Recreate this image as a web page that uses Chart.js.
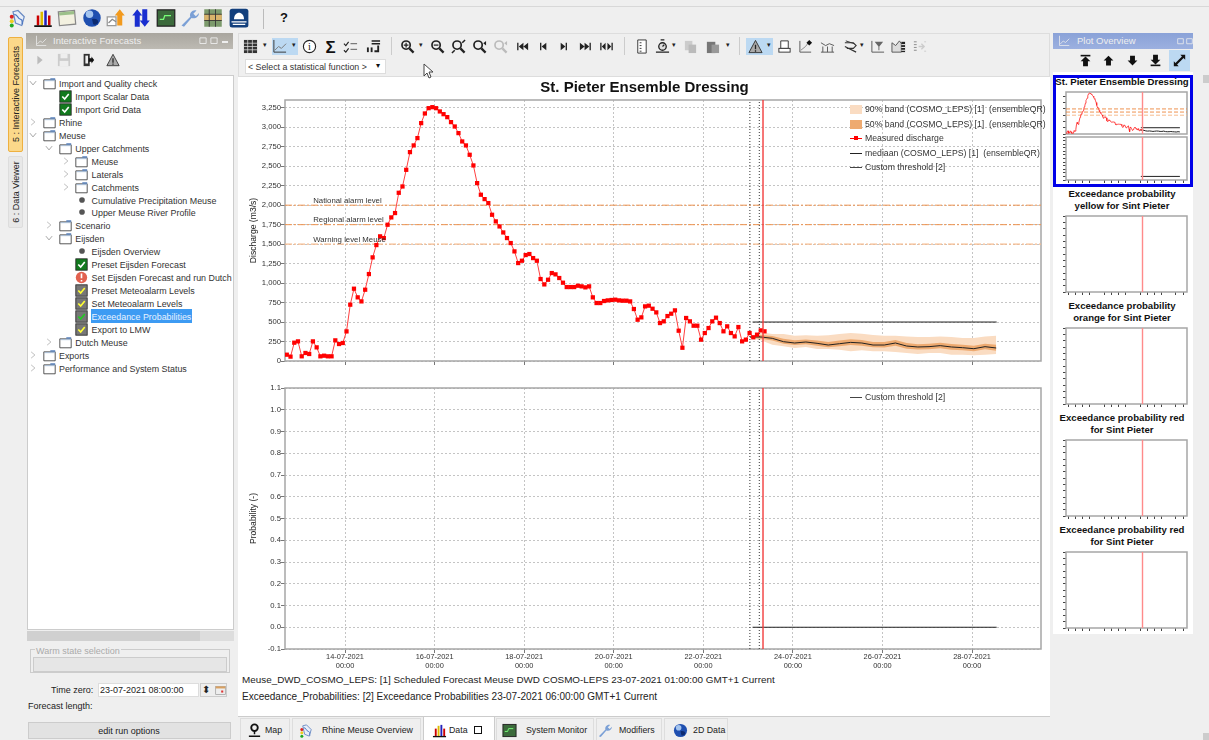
<!DOCTYPE html>
<html>
<head>
<meta charset="utf-8">
<title>St. Pieter Ensemble Dressing</title>
<script src="https://cdn.jsdelivr.net/npm/chart.js@4"></script>
<style>
html, body { margin: 0; padding: 0; }
body { width: 1209px; height: 740px; overflow: hidden; background: #efefef; position: relative; font-family: 'Liberation Sans', Arial, sans-serif; color: #222; }
div, canvas, svg { position: absolute; box-sizing: border-box; }
.t { white-space: pre; font-size: 9px; line-height: 12px; }
</style>
</head>
<body>
<script>
// --- data, days are days of July 2021 ---
const measuredStart = 12.70;
const measuredStep = 1 / 12;
const measuredQ = [81,56,235,252,60,103,90,252,175,60,68,60,60,265,218,231,380,723,928,817,765,915,1116,1330,1488,1600,1578,1749,1843,1899,2159,2240,2454,2681,2767,2861,3053,3177,3245,3258,3245,3203,3168,3130,3066,3010,2925,2818,2767,2647,2510,2283,2134,2078,2027,1877,1792,1727,1650,1578,1514,1407,1257,1287,1360,1373,1321,1287,1052,983,1043,1129,1112,1065,1005,949,949,949,966,958,945,958,817,744,744,770,778,783,787,778,774,774,765,667,530,560,701,710,671,624,487,509,577,607,650,389,170,552,509,453,453,274,359,423,509,556,487,381,445,359,316,436,252,274,359,304,338,393,381];

const forecastStart = 23.04;
const forecastStep = 0.25;
const medianQ = [308,308,291,248,231,244,227,205,222,239,231,205,205,231,192,180,184,197,180,171,158,184,167];
const upper90 = [316,368,346,346,325,329,325,329,346,359,351,334,325,325,316,308,308,316,308,295,295,316,325];
const lower90 = [295,265,210,188,167,180,154,154,145,124,137,124,124,115,103,90,103,103,81,81,73,81,90];
const upper50 = [312,335,320,285,265,275,262,245,262,278,270,245,245,268,230,215,222,235,218,210,197,222,210];
const lower50 = [302,285,262,222,205,215,197,175,190,205,197,175,172,197,158,148,150,165,145,137,124,150,130];

const thresholdNames = ['National alarm level', 'Regional alarm level', 'Warning level Meuse'];
const thresholdValues = [2000, 1750, 1500];
const customThreshold = 500;
const customProb = 0;
const customFrom = 23.1;
const customTo = 28.55;

const timeZero = 23.333;
const forecastT0 = 23.04;
const exceedT0 = 23.25;

const xMin = 12.66;
const xMax = 29.54;
const dateTicks = [14, 16, 18, 20, 22, 24, 26, 28];
const dateLabels = ['14-07-2021', '16-07-2021', '18-07-2021', '20-07-2021', '22-07-2021', '24-07-2021', '26-07-2021', '28-07-2021'];
const thumbTicks = [13, 14, 15, 16, 18, 19, 20, 21, 23, 24, 25, 26, 28, 29];
const qTicks = [0, 250, 500, 750, 1000, 1250, 1500, 1750, 2000, 2250, 2500, 2750, 3000, 3250];
const probTicks = [-0.1, 0, 0.1, 0.2, 0.3, 0.4, 0.5, 0.6, 0.7, 0.8, 0.9, 1.0, 1.1];

const band90Color = '#fadcc2';
const band50Color = '#eeaa70';
const thresholdColors = ['#ee9350', '#ee9350', '#f6bb8e'];
const FONT = "'Liberation Sans', Arial, sans-serif";

const measuredPts = measuredQ.map((v, i) => ({ x: measuredStart + i * measuredStep, y: v }));
const forecastPts = arr => arr.map((v, i) => ({ x: forecastStart + i * forecastStep, y: v }));

// --- ui helpers ---
function box(x, y, w, h, css) {
  const d = document.createElement('div');
  d.style.cssText = `left:${x}px;top:${y}px;width:${w}px;height:${h}px;` + (css || '');
  document.body.appendChild(d);
  return d;
}
function txt(x, y, s, css) {
  const d = document.createElement('div');
  d.className = 't';
  d.textContent = s;
  d.style.cssText = `left:${x}px;top:${y - 6}px;` + (css || '');
  document.body.appendChild(d);
  return d;
}
function ctxt(cx, y, s, css) {
  return txt(cx - 100, y, s, 'width:200px;text-align:center;' + (css || ''));
}
function icon(cx, cy, name, size) {
  const s = size || 16;
  const d = document.createElement('div');
  d.style.cssText = `left:${cx - s / 2}px;top:${cy - s / 2}px;width:${s}px;height:${s}px;`;
  d.innerHTML = `<svg width="${s}" height="${s}" viewBox="0 0 16 16" style="left:0;top:0">${icons[name]}</svg>`;
  document.body.appendChild(d);
}

const glass = (extra, c) => `<circle cx="6.5" cy="6.5" r="4.4" fill="none" stroke="${c || '#222'}" stroke-width="1.8"/><path d="M10 10l4.5 4.5" stroke="${c || '#222'}" stroke-width="2.4"/>${extra || ''}`;
const icons = {
  table: '<rect x="1" y="1" width="14" height="14" fill="#333"/><path d="M1 4.5h14M1 8h14M1 11.5h14M5 1v14M10 1v14" stroke="#ddd" stroke-width=".8"/>',
  line: '<path d="M2 1v13h13" fill="none" stroke="#333"/><path d="M3 12l4-4 3 2 5-5" fill="none" stroke="#777"/>',
  lineWhite: '<path d="M2 1v13h13" fill="none" stroke="#eee"/><path d="M3 12l4-4 3 2 5-5" fill="none" stroke="#eee"/>',
  info: '<circle cx="8" cy="8" r="6.5" fill="#fff" stroke="#222" stroke-width="1.2"/><text x="8" y="12" font-size="11" font-family="Liberation Serif" text-anchor="middle" fill="#222">i</text>',
  sigma: '<text x="8" y="14.5" font-size="18" font-weight="bold" font-family="Liberation Sans" text-anchor="middle" fill="#111">Σ</text>',
  check: '<path d="M1 5l2 2 3-4M1 12l2 2 3-4" fill="none" stroke="#222" stroke-width="1.2"/><path d="M8 5h7M8 11h7" stroke="#555"/>',
  rows: '<path d="M6 2h9M6 5h9" stroke="#222" stroke-width="1.6"/><rect x="1" y="9" width="2" height="5" fill="#222"/><rect x="5" y="9" width="2" height="5" fill="#222"/><path d="M13 7v6H9" fill="none" stroke="#222" stroke-width="2"/>',
  zin: glass('<path d="M4 6.5h5M6.5 4v5" stroke="#222" stroke-width="1.3"/>'),
  zout: glass('<path d="M4 6.5h5" stroke="#222" stroke-width="1.3"/>'),
  zfit: glass('<path d="M1 15l3-3M15 1l-3 3" stroke="#222" stroke-width="1.6"/>'),
  zprev: glass('<path d="M15 2l-3 2.5 3 2.5z" fill="#222"/>'),
  zoff: glass('<path d="M15 2l-3 2.5 3 2.5z" fill="#bbb"/>', '#bbb'),
  first: '<path d="M3 4v8" stroke="#222" stroke-width="1.4"/><path d="M9 4l-5 4 5 4zM14 4l-5 4 5 4z" fill="#222"/>',
  prev: '<path d="M5 4v8" stroke="#222" stroke-width="1.4"/><path d="M11 4l-5 4 5 4z" fill="#222"/>',
  next: '<path d="M11 4v8" stroke="#222" stroke-width="1.4"/><path d="M5 4l5 4-5 4z" fill="#222"/>',
  last: '<path d="M13 4v8" stroke="#222" stroke-width="1.4"/><path d="M2 4l5 4-5 4zM7 4l5 4-5 4z" fill="#222"/>',
  both: '<path d="M2 4v8M14 4v8" stroke="#222" stroke-width="1.4"/><path d="M7 4l-4 4 4 4zM9 4l4 4-4 4z" fill="#222"/>',
  doc: '<path d="M4 1h9v14H4z" fill="#fff" stroke="#333"/><path d="M6 4h2M6 7h2M6 10h2M6 13h2" stroke="#333"/>',
  stop: '<circle cx="8" cy="8" r="4" fill="#ddd" stroke="#222" stroke-width="1.4"/><path d="M1 14h14M8 8l2-2M6 1h4" stroke="#222" stroke-width="1.4"/>',
  copy: '<rect x="2" y="2" width="8" height="10" fill="#ccc"/><rect x="6" y="6" width="8" height="9" fill="#bbb"/>',
  paste: '<rect x="2" y="3" width="9" height="12" fill="#777"/><rect x="7" y="6" width="8" height="9" fill="#999"/>',
  warn: '<path d="M8 1.5l7 13H1z" fill="#aaa" stroke="#333"/><path d="M8 6v5M8 12v1.5" stroke="#222" stroke-width="1.4"/>',
  print: '<path d="M4 2h8v8H4z" fill="#fff" stroke="#333"/><rect x="2" y="10" width="12" height="4" fill="#fff" stroke="#333"/>',
  chartpt: '<path d="M2 2v12h12" fill="none" stroke="#555"/><path d="M3 12l5-4 3-4" fill="none" stroke="#888"/><path d="M12 1l3 3-3 3-3-3z" fill="#111"/>',
  bars: '<path d="M1 14h14M3 14V8M8 14V8M13 14V8M1 4l5 3 4-2 5 2" fill="none" stroke="#555"/>',
  cross: '<path d="M2 4h9l3 3-3 3H4M2 8l12 6" fill="none" stroke="#333" stroke-width="1.2"/><path d="M3 2l9 3" stroke="#333"/>',
  filter: '<path d="M2 2v12h13" fill="none" stroke="#555"/><path d="M5 3h9l-4 5v4H9V8z" fill="#666"/>',
  hatch: '<path d="M1 14V4l4 3 4-5 2 3v9z" fill="#ddd" stroke="#555"/><rect x="11" y="3" width="4" height="11" fill="#222"/><path d="M11 6h4M11 9h4M11 12h4" stroke="#fff"/>',
  dimmed: '<path d="M2 3h3M2 6h3M2 9h3M2 12h3" stroke="#888"/><path d="M7 8h5M10 5l3 3-3 3" stroke="#ccc" fill="none" stroke-width="1.4"/><path d="M13 3h2M13 13h2" stroke="#ccc"/>',
  chartbar: '<rect x="3" y="6" width="2" height="8" fill="#c00"/><rect x="6" y="3" width="2" height="11" fill="#db0"/><rect x="9" y="2" width="2" height="12" fill="#22b"/><rect x="12" y="6" width="2" height="8" fill="#c00"/><path d="M1 14.5h14" stroke="#111" stroke-width="1.4"/>',
  calendar: '<rect x="1.5" y="2.5" width="13" height="11" fill="#f3f1e0" stroke="#888" transform="rotate(-5 8 8)"/><rect x="2" y="3" width="12" height="2.5" fill="#9cc089" transform="rotate(-5 8 8)"/>',
  globe: '<circle cx="8" cy="8" r="7" fill="#1f4fb0"/><circle cx="6" cy="5" r="3" fill="#a4c4ee"/><path d="M8 9c2-1 5 0 5 2s-3 3-4 2z" fill="#0c2a70"/>',
  orange: '<path d="M1 7h7v7H1z" fill="#fff" stroke="#999"/><path d="M2 12l3-3 3 2" fill="none" stroke="#888"/><path d="M11 1l4 5h-2v8H9V6H7z" fill="#f29a1e"/>',
  blue: '<path d="M5 1l4 5H7v9H3V6H1zM11 15l-4-5h2V1h4v9h2z" fill="#1a2fd0"/>',
  monitor: '<rect x="1" y="1.5" width="14" height="13" fill="#3c6a3c" stroke="#222"/><path d="M3 9h3l1-3h5" stroke="#7f7" fill="none"/>',
  wrench: '<path d="M2 14l7-7c-1-3 2-6 5-5l-2.5 2.5 2 2L16 4c0 3-3 5-6 4l-6 7z" fill="#7ba0d6"/>',
  grid: '<rect x="1" y="1" width="14" height="14" fill="#7c9a6c"/><rect x="1" y="5" width="14" height="5" fill="#d9b36b"/><path d="M1 5h14M1 10h14M5 1v14M10 1v14" stroke="#333" stroke-width=".7"/>',
  ship: '<rect x="0.5" y="0.5" width="15" height="15" rx="2" fill="#123f7c"/><path d="M4 9c0-7 8-7 8 0z" fill="#fff"/><path d="M2 11h12M3 13h10" stroke="#fff"/>',
  logo: '<path d="M4 3l4-1 5 5-2 7-5-2z" fill="#e8eef8" stroke="#6c8cc4"/><path d="M5 5c3 0 2 3 5 4s0 3 2 4" fill="none" stroke="#4a74c0"/><circle cx="3" cy="7" r="1.6" fill="#d22"/><circle cx="3" cy="10.5" r="1.6" fill="#ec2"/><circle cx="3" cy="14" r="1.6" fill="#2a2"/>',
  save: '<path d="M1 1h14v14H1z" fill="#ccc"/><rect x="4" y="1" width="8" height="5" fill="#eee"/><rect x="3" y="9" width="10" height="6" fill="#eee"/>',
  door: '<path d="M3 1h7v14H3z" fill="#333"/><path d="M5 3h3v9H5z" fill="#eee"/><path d="M9 6h3V4l3 4-3 4v-2H9z" fill="#111"/>',
  playoff: '<path d="M5 3l6 5-6 5z" fill="#bbb"/>',
  top: '<path d="M2 2h12" stroke="#111" stroke-width="2"/><path d="M8 3l6 6h-3v6H5V9H2z" fill="#111"/>',
  up: '<path d="M8 2l6 6h-3v6H5V8H2z" fill="#111"/>',
  down: '<path d="M8 14l6-6h-3V2H5v6H2z" fill="#111"/>',
  bottom: '<path d="M2 14h12" stroke="#111" stroke-width="2"/><path d="M8 13l6-6h-3V1H5v6H2z" fill="#111"/>',
  expand: '<path d="M15 1v6l-2-2-8 8 2 2H1V9l2 2 8-8-2-2z" fill="#111"/>',
  folder: '<path d="M1 3.5h14v11H1z" fill="#fff" stroke="#333"/><path d="M9 1.5h6v2H9z" fill="#5f86bd"/><path d="M2 4.5h13" stroke="#9fb9d8"/>',
  chevR: '<path d="M5 3l6 5-6 5" fill="none" stroke="#aaa" stroke-width="1.2"/>',
  chevD: '<path d="M3 5l5 6 5-6" fill="none" stroke="#888" stroke-width="1.2"/>',
  dot: '<circle cx="8" cy="8" r="4.5" fill="#555"/>',
  okGreen: '<rect x="1" y="1" width="14" height="14" fill="#127a1e" stroke="#222"/><path d="M4 8l3 3 5-6" fill="none" stroke="#fff" stroke-width="2"/>',
  okYellow: '<rect x="1" y="1" width="14" height="14" fill="#777" stroke="#222"/><path d="M4 8l3 3 5-6" fill="none" stroke="#ff3" stroke-width="2"/>',
  okMixed: '<rect x="1" y="1" width="14" height="14" fill="#777" stroke="#222"/><path d="M4 8l3 3 5-6" fill="none" stroke="#2c2" stroke-width="2"/>',
  error: '<circle cx="8" cy="8" r="7" fill="#e2614f"/><path d="M8 3v6M8 11v2" stroke="#fff" stroke-width="2"/>',
  pin: '<circle cx="8" cy="5" r="3.5" fill="none" stroke="#111" stroke-width="2"/><path d="M8 9v3M2 14h12" stroke="#111" stroke-width="1.6"/>',
  cal: '<rect x="1" y="2" width="14" height="12" fill="#eee" stroke="#999"/><rect x="1" y="2" width="14" height="3" fill="#d9a060"/><rect x="9" y="8" width="3" height="3" fill="#d33"/>',
  tiny: '<path d="M3 12V3h10v9z" fill="none" stroke="#eee" stroke-width="1.4"/>'
};

// --- window frame ---
box(0, 6, 1209, 1, 'background:#d8d8d8');
[['logo', 18], ['chartbar', 43], ['calendar', 67], ['globe', 92], ['orange', 116], ['blue', 141], ['monitor', 166], ['wrench', 189], ['grid', 213], ['ship', 239]].forEach(a => icon(a[1], 18, a[0], 20));
box(263, 9, 1, 20, 'background:#bbb');
ctxt(284, 18, '?', 'font-size:13px;font-weight:bold;color:#111');

// left tabs
box(8, 37, 15, 115, 'background:#fbd88a;border:1px solid #eeb040;border-radius:2px');
box(8, 156, 15, 72, 'background:#e8e8e8;border:1px solid #ddd;border-radius:2px');
txt(-36, 94, '5 : Interactive Forecasts', 'width:104px;text-align:center;transform:rotate(-90deg)');
txt(-20, 192, '6 : Data Viewer', 'width:72px;text-align:center;transform:rotate(-90deg)');

// left panel
box(26, 33, 207, 16, 'background:linear-gradient(#a9a69f,#bdbab3)');
txt(53, 41, 'Interactive Forecasts', 'color:#eee;font-size:9.5px');
icon(41, 41, 'lineWhite', 12);
icon(203, 41, 'tiny', 10); icon(214, 41, 'tiny', 10);
box(222, 41, 6, 2, 'background:#eee');
[['playoff', 40], ['save', 64], ['door', 88], ['warn', 113]].forEach(a => icon(a[1], 60, a[0], 14));
box(27, 75, 207, 555, 'background:#fff;border:1px solid #ccc');

const treeRows = [
  ['Import and Quality check', 0, 'folder', 'chevD', 83],
  ['Import Scalar Data', 1, 'okGreen', '', 96],
  ['Import Grid Data', 1, 'okGreen', '', 109],
  ['Rhine', 0, 'folder', 'chevR', 122],
  ['Meuse', 0, 'folder', 'chevD', 135],
  ['Upper Catchments', 1, 'folder', 'chevD', 148],
  ['Meuse', 2, 'folder', 'chevR', 161],
  ['Laterals', 2, 'folder', 'chevR', 174],
  ['Catchments', 2, 'folder', 'chevR', 187],
  ['Cumulative Precipitation Meuse', 2, 'dot', '', 200],
  ['Upper Meuse River Profile', 2, 'dot', '', 212],
  ['Scenario', 1, 'folder', 'chevR', 225],
  ['Eijsden', 1, 'folder', 'chevD', 238],
  ['Eijsden Overview', 2, 'dot', '', 251],
  ['Preset Eijsden Forecast', 2, 'okGreen', '', 264],
  ['Set Eijsden Forecast and run Dutch', 2, 'error', '', 277],
  ['Preset Meteoalarm Levels', 2, 'okYellow', '', 290],
  ['Set Meteoalarm Levels', 2, 'okYellow', '', 303],
  ['Exceedance Probabilities', 2, 'okMixed', '', 316],
  ['Export to LMW', 2, 'okYellow', '', 329],
  ['Dutch Meuse', 1, 'folder', 'chevR', 342],
  ['Exports', 0, 'folder', 'chevR', 355],
  ['Performance and System Status', 0, 'folder', 'chevR', 368]
];
box(91, 309, 101, 14, 'background:#3d9bf3');
treeRows.forEach(r => {
  const indent = r[1] * 16.3;
  const small = r[2] === 'dot' ? 10 : 13;
  if (r[3]) icon(33 + indent, r[4], r[3], 10);
  icon(49 + indent, r[4], r[2], small);
  txt(59 + indent, r[4] + 1, r[0], r[0] === 'Exceedance Probabilities' ? 'color:#e8f2ff;font-size:8.9px' : 'color:#333;font-size:8.9px');
});

// left bottom
box(27, 631, 207, 10, 'background:#ddd');
box(27, 631, 173, 10, 'background:#d0d0d0');
box(30, 649, 200, 24, 'border:1px solid #ccc');
txt(35, 651, 'Warm state selection', 'color:#aaa;background:#efefef;padding:0 1px');
box(33, 657, 194, 15, 'background:#e6e6e6;border:1px solid #ccc');
txt(51, 690, 'Time zero:', 'color:#222');
box(98, 683, 101, 14, 'background:#fff;border:1px solid #ddd');
txt(100, 690, '23-07-2021 08:00:00', 'color:#222');
box(200, 683, 27, 14, 'background:#eee;border:1px solid #ccc');
icon(220, 690, 'cal', 11);
ctxt(206, 690, '⬍', 'font-size:10px;color:#222');
txt(28, 706, 'Forecast length:', 'color:#222');
box(28, 722, 203, 17, 'background:#e2e2e2;border:1px solid #ccc');
ctxt(129, 731, 'edit run options', 'color:#222');

// chart toolbar
box(238, 33, 812, 44, 'background:#efefef;border:1px solid #ddd');
box(272, 38, 26, 17, 'background:#bcd9f2');
box(746, 38, 27, 17, 'background:#bcd9f2');
[['table', 250], ['line', 279], ['info', 309], ['sigma', 330], ['check', 350], ['rows', 373], ['zin', 407], ['zout', 437], ['zfit', 458], ['zprev', 479], ['zoff', 500], ['first', 522], ['prev', 543], ['next', 563], ['last', 585], ['both', 606], ['doc', 641], ['stop', 662], ['copy', 690], ['paste', 712], ['warn', 755], ['print', 784], ['chartpt', 805], ['bars', 827], ['cross', 850], ['filter', 877], ['hatch', 898], ['dimmed', 919]].forEach(a => icon(a[1], 46, a[0], 15));
[265, 294, 421, 674, 728, 769, 862].forEach(x => ctxt(x, 45, '▾', 'font-size:7px;color:#222'));
[391, 624, 739].forEach(x => box(x, 37, 1, 18, 'background:#ccc'));
box(245, 59, 141, 15, 'background:#fff;border:1px solid #ddd');
txt(248, 66.5, '< Select a statistical function >', 'color:#333;font-size:8.8px');
ctxt(378, 66, '▾', 'font-size:8px;color:#111');

// white plot area
box(238, 77, 812, 640, 'background:#fff');

// plot overview
box(1053, 33, 140, 16, 'background:linear-gradient(#8aa2d8,#9cb0e0)');
txt(1077, 41, 'Plot Overview', 'color:#eee;font-size:9.5px');
icon(1064, 41, 'lineWhite', 12); icon(1180, 41, 'tiny', 9); icon(1189, 41, 'tiny', 9);
box(1169, 50, 21, 21, 'background:#bcd9f2');
[['top', 1085], ['up', 1108], ['down', 1132], ['bottom', 1155], ['expand', 1179]].forEach(a => icon(a[1], 60, a[0], 13));
box(1053, 72, 140, 562, 'background:#fff');
box(1053, 75, 140, 112, 'border:3px solid #0000e8');
ctxt(1122, 82, 'St. Pieter Ensemble Dressing', 'font-weight:bold;font-size:9.6px;color:#111');
[[194, 'Exceedance probability'], [206, 'yellow for Sint Pieter'], [306, 'Exceedance probability'], [318, 'orange for Sint Pieter'], [418, 'Exceedance probability red'], [430, 'for Sint Pieter'], [530, 'Exceedance probability red'], [542, 'for Sint Pieter']].forEach(a => ctxt(1122, a[0], a[1], 'font-weight:bold;font-size:9.6px;color:#111'));
box(1203, 75, 6, 8, 'background:#ccc');
box(1203, 733, 6, 7, 'background:#ccc');

// bottom tabs
box(238, 716, 812, 1, 'background:#ccc');
[[240, 50], [292, 129], [496, 98], [596, 66], [664, 64]].forEach(a => box(a[0], 718, a[1], 22, 'background:#efefef;border:1px solid #ddd;border-bottom:none'));
box(423, 716, 72, 24, 'background:#fff;border:1px solid #ccc;border-bottom:none');
[['pin', 254], ['logo', 306], ['chartbar', 439], ['monitor', 509], ['wrench', 604], ['globe', 680]].forEach(a => icon(a[1], 730, a[0], 15));
[[265, 'Map'], [322, 'Rhine Meuse Overview'], [449, 'Data'], [526, 'System Monitor'], [619, 'Modifiers'], [693, '2D Data']].forEach(a => txt(a[0], 730, a[1], 'color:#222;font-size:8.8px'));
box(474, 726, 8, 8, 'border:1px solid #111');

// footer lines
txt(242, 680, 'Meuse_DWD_COSMO_LEPS: [1] Scheduled Forecast Meuse DWD COSMO-LEPS 23-07-2021 01:00:00 GMT+1 Current', 'font-size:9.9px;color:#222');
txt(242, 696.5, 'Exceedance_Probabilities: [2] Exceedance Probabilities 23-07-2021 06:00:00 GMT+1 Current', 'font-size:10px;color:#222');

// --- charts ---
function addCanvas(x, y, w, h) {
  const c = document.createElement('canvas');
  c.width = w;
  c.height = h;
  c.style.cssText = `left:${x}px;top:${y}px;width:${w}px;height:${h}px;`;
  document.body.appendChild(c);
  return c;
}

const framePlugin = {
  id: 'frame',
  beforeDatasetsDraw(chart) {
    const a = chart.chartArea, c = chart.ctx;
    c.save();
    c.strokeStyle = '#a6a6a6';
    c.lineWidth = 1.5;
    c.strokeRect(a.left, a.top, a.width, a.height);
    c.restore();
  }
};

const thresholdLabelPlugin = {
  id: 'thresholdLabels',
  afterDatasetsDraw(chart) {
    const c = chart.ctx, xs = chart.scales.x, ys = chart.scales.y;
    c.save();
    c.font = '7.8px ' + FONT;
    c.fillStyle = '#333';
    c.textBaseline = 'bottom';
    thresholdNames.forEach((name, i) => {
      c.fillText(name, xs.getPixelForValue(13.29), ys.getPixelForValue(thresholdValues[i]) - 0.5);
    });
    c.restore();
  }
};

const vline = (x, yMin, yMax, color, width, dash) => ({
  data: [{ x: x, y: yMin }, { x: x, y: yMax }],
  borderColor: color, borderWidth: width, borderDash: dash || [], pointRadius: 0
});
const hline = (label, y, from, to, color, width, dash) => ({
  label: label, data: [{ x: from, y: y }, { x: to, y: y }],
  borderColor: color, borderWidth: width, borderDash: dash || [], pointRadius: 0
});

function commonScales(yMin, yMax, yTicks, yTitle, showDates, xFitH, yFitW) {
  return {
    x: {
      type: 'linear', min: xMin, max: xMax,
      afterBuildTicks: s => { s.ticks = dateTicks.map(v => ({ value: v })); },
      afterFit: s => { s.height = xFitH; },
      border: { display: false, dash: [2, 2] },
      grid: { color: '#c4c4c4', tickLength: 4, tickColor: '#777', tickBorderDash: [] },
      ticks: {
        display: showDates, autoSkip: false, maxRotation: 0, padding: 0,
        color: '#333', font: { family: FONT, size: 7.4, lineHeight: 1.15 },
        callback: (v, i) => [dateLabels[i], '00:00']
      }
    },
    y: {
      min: yMin, max: yMax,
      afterBuildTicks: s => { s.ticks = yTicks.map(v => ({ value: v })); },
      afterFit: s => { s.width = yFitW; },
      border: { display: false, dash: [2, 2] },
      grid: { color: '#c4c4c4', tickLength: 4, tickColor: '#777', tickBorderDash: [] },
      title: { display: true, text: yTitle, color: '#222', padding: 0, font: { family: FONT, size: 8.6 } },
      ticks: {
        autoSkip: false, padding: 0, color: '#333', font: { family: FONT, size: 7.7 },
        callback: v => yMax > 10 ? v.toLocaleString('en-US') : v.toFixed(1)
      }
    }
  };
}

const qMin = 0, qMax = 3350;
const pMin = -0.1, pMax = 1.1;

new Chart(addCanvas(240, 78, 806, 291), {
  type: 'line',
  data: {
    datasets: [
      vline(timeZero, qMin, qMax, '#f23c3c', 1.4),
      { label: 'Measured discharge', data: measuredPts, borderColor: '#ff4040', borderWidth: 1, pointStyle: 'rect', pointRadius: 3, pointBackgroundColor: '#f00', pointBorderWidth: 0 },
      { label: 'mediaan (COSMO_LEPS) [1]  (ensembleQR)', data: forecastPts(medianQ), borderColor: '#222', borderWidth: 1, pointRadius: 0 },
      hline('Custom threshold [2]', customThreshold, customFrom, customTo, '#222', 1),
      vline(forecastT0, qMin, qMax, '#333', 1, [1, 2]),
      vline(exceedT0, qMin, qMax, '#333', 1, [1, 2]),
      hline(thresholdNames[0], thresholdValues[0], xMin, xMax, thresholdColors[0], 1, [7, 2, 2, 2]),
      hline(thresholdNames[1], thresholdValues[1], xMin, xMax, thresholdColors[1], 1, [7, 2, 2, 2]),
      hline(thresholdNames[2], thresholdValues[2], xMin, xMax, thresholdColors[2], 1.2, [7, 2, 2, 2]),
      { label: '50% band (COSMO_LEPS) [1]  (ensembleQR)', data: forecastPts(upper50), borderWidth: 0, pointRadius: 0, backgroundColor: band50Color, fill: '+1' },
      { data: forecastPts(lower50), borderWidth: 0, pointRadius: 0 },
      { label: '90% band (COSMO_LEPS) [1]  (ensembleQR)', data: forecastPts(upper90), borderWidth: 0, pointRadius: 0, backgroundColor: band90Color, fill: '+1' },
      { data: forecastPts(lower90), borderWidth: 0, pointRadius: 0 }
    ]
  },
  plugins: [framePlugin, thresholdLabelPlugin],
  options: {
    responsive: false, animation: false, devicePixelRatio: 1,
    layout: { padding: { left: 8, right: 5, top: 0, bottom: 0 } },
    scales: commonScales(qMin, qMax, qTicks, 'Discharge (m3/s)', false, 8, 37),
    plugins: {
      legend: { display: false }, tooltip: { enabled: false },
      title: { display: true, text: 'St. Pieter Ensemble Dressing', color: '#111', padding: { top: 1, bottom: 3 }, font: { family: FONT, size: 15, weight: 'bold' } }
    }
  }
});

new Chart(addCanvas(240, 380, 806, 294), {
  type: 'line',
  data: {
    datasets: [
      vline(timeZero, pMin, pMax, '#f23c3c', 1.4),
      hline('Custom threshold [2]', customProb, customFrom, customTo, '#222', 1),
      vline(forecastT0, pMin, pMax, '#333', 1, [1, 2]),
      vline(exceedT0, pMin, pMax, '#333', 1, [1, 2])
    ]
  },
  plugins: [framePlugin],
  options: {
    responsive: false, animation: false, devicePixelRatio: 1,
    layout: { padding: { left: 8, right: 5, top: 8, bottom: 0 } },
    scales: commonScales(pMin, pMax, probTicks, 'Probability (-)', true, 25, 37),
    plugins: { legend: { display: false }, tooltip: { enabled: false } }
  }
});

// legends of the big charts
const legendRows = [
  ['90% band (COSMO_LEPS) [1]  (ensembleQR)', 'band90', 109],
  ['50% band (COSMO_LEPS) [1]  (ensembleQR)', 'band50', 124],
  ['Measured discharge', 'measured', 138],
  ['mediaan (COSMO_LEPS) [1]  (ensembleQR)', 'line', 153],
  ['Custom threshold [2]', 'line2', 167],
  ['Custom threshold [2]', 'line2', 397]
];
legendRows.forEach(r => {
  const y = r[2];
  if (r[1] === 'band90') box(850, y - 4, 12, 9, 'background:' + band90Color);
  if (r[1] === 'band50') box(850, y - 4, 12, 9, 'background:' + band50Color);
  if (r[1] === 'measured') { box(850, y, 12, 1, 'background:#f00'); box(854, y - 2, 4, 4, 'background:#f00'); }
  if (r[1] === 'line') box(850, y, 12, 1, 'background:#222');
  if (r[1] === 'line2') box(850, y, 12, 1, 'background:#444');
  txt(865, y, r[0], 'font-size:8.7px;color:#333');
});

// thumbnails in the plot overview
function thumb(frameTop, frameBottom, yMin, yMax, yTicks, datasets, showX) {
  const top = frameTop - 1;
  new Chart(addCanvas(1060, top, 132, frameBottom - top + 5), {
    type: 'line',
    data: { datasets: datasets },
    plugins: [framePlugin],
    options: {
      responsive: false, animation: false, devicePixelRatio: 1,
      layout: { padding: { left: 0, right: 5, top: 1, bottom: 0 } },
      scales: {
        x: {
          type: 'linear', min: xMin, max: xMax,
          afterBuildTicks: s => { s.ticks = thumbTicks.map(v => ({ value: v })); },
          afterFit: s => { s.height = 5; },
          border: { display: false },
          grid: { display: showX, drawOnChartArea: false, tickLength: 3, tickColor: '#444' },
          ticks: { display: false }
        },
        y: {
          min: yMin, max: yMax,
          afterBuildTicks: s => { s.ticks = yTicks.map(v => ({ value: v })); },
          afterFit: s => { s.width = 6; },
          border: { display: false },
          grid: { drawOnChartArea: false, tickLength: 3, tickColor: '#444' },
          ticks: { display: false }
        }
      },
      plugins: { legend: { display: false }, tooltip: { enabled: false } }
    }
  });
}

thumb(92, 134, qMin, qMax, qTicks.filter((v, i) => i % 2 === 0), [
  vline(timeZero, qMin, qMax, '#ff8a8a', 1.4),
  { data: measuredPts, borderColor: '#ff2020', borderWidth: 0.8, pointRadius: 0 },
  { data: forecastPts(medianQ), borderColor: '#222', borderWidth: 1, pointRadius: 0 },
  hline('', customThreshold, customFrom, customTo, '#222', 1),
  hline('', thresholdValues[0], xMin, xMax, thresholdColors[0], 1, [4, 2]),
  hline('', thresholdValues[1], xMin, xMax, thresholdColors[1], 1, [4, 2]),
  hline('', thresholdValues[2], xMin, xMax, thresholdColors[2], 1, [4, 2])
], false);
thumb(137, 180, pMin, pMax, probTicks, [
  vline(timeZero, pMin, pMax, '#ff8a8a', 1.4),
  hline('', customProb, customFrom, customTo, '#222', 1)
], true);
[[216, 292], [328, 404], [440, 516], [552, 628]].forEach(f => {
  thumb(f[0], f[1], pMin, pMax, probTicks, [vline(timeZero, pMin, pMax, '#ff8a8a', 1.4)], true);
});

// mouse pointer
const cur = document.createElement('div');
cur.style.cssText = 'left:423px;top:63px;width:12px;height:16px;';
cur.innerHTML = '<svg width="12" height="16" style="left:0;top:0"><path d="M1 1v12l3-3 2 5 2-1-2-5h4z" fill="#fff" stroke="#444"/></svg>';
document.body.appendChild(cur);
</script>
</body>
</html>
